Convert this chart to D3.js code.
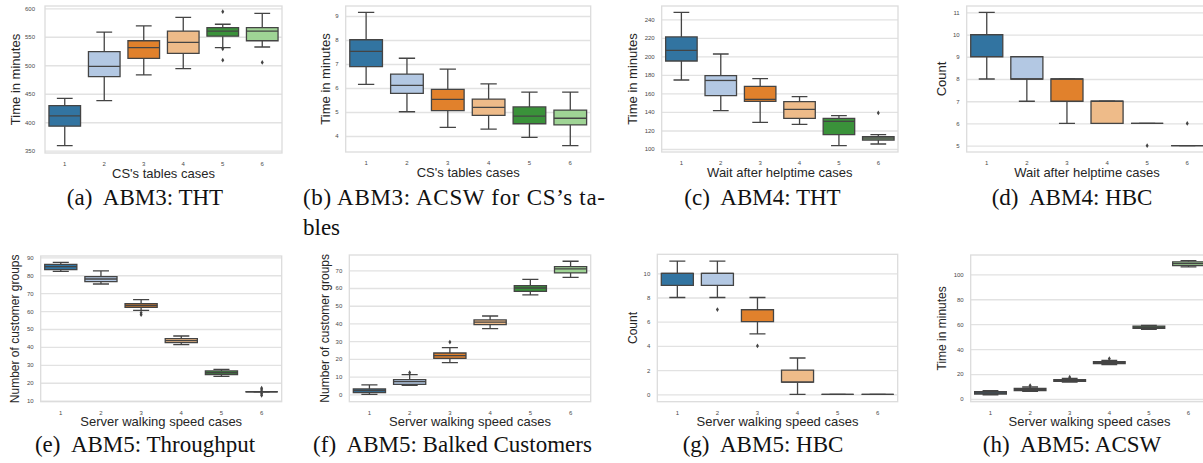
<!DOCTYPE html>
<html>
<head>
<meta charset="utf-8">
<script src="https://cdn.jsdelivr.net/npm/d3@7"></script>
<style>
  body { margin: 0; background: #fff; }
  svg { display: block; }
  .sans { font-family: "Liberation Sans", Arimo, Arial, sans-serif; }
  .serif { font-family: "Liberation Serif", Tinos, "Times New Roman", Times, serif; }
</style>
</head>
<body>
<div id="fig"></div>
<script>
// categories shared by every panel
var cases = ["1", "2", "3", "4", "5", "6"];

// box stats per case: [whisker low, q1, median, q3, whisker high]
var abm3Tht = [[359, 393, 411, 429, 442], [438, 480, 498, 524, 558], [483, 512, 531, 543, 569],
               [494, 521, 540, 560, 584], [531, 551, 560, 566, 572], [532, 543, 560, 566, 591]];
var abm3ThtOut = [[], [], [], [], [594, 529, 509], [505]];

var abm3Acsw = [[6.15, 6.89, 7.53, 8.01, 9.15], [5.01, 5.78, 6.11, 6.58, 7.24], [4.36, 5.06, 5.53, 5.94, 6.79],
                [4.29, 4.86, 5.19, 5.54, 6.17], [3.94, 4.51, 4.83, 5.21, 5.83], [3.60, 4.46, 4.74, 5.08, 5.83]];
var abm3AcswOut = [[], [], [], [], [], []];

var abm4Tht = [[174.5, 195, 206.5, 221, 247.6], [141.4, 157.6, 174, 179.2, 202.6], [128.8, 151.5, 153.6, 167.7, 176],
               [126.6, 133.1, 142.8, 151.1, 156.5], [103.6, 115.5, 129.9, 133.1, 136], [105.4, 109.7, 111.9, 113.3, 115.5]];
var abm4ThtOut = [[], [], [], [], [], [139]];

var abm4Hbc = [[8, 9, 10, 10, 11], [7, 8, 8, 9, 9], [6, 7, 8, 8, 8], [6, 6, 7, 7, 7], [6, 6, 6, 6, 6], [5, 5, 5, 5, 5]];
var abm4HbcOut = [[], [], [], [], [5], [6]];

var abm5Throughput = [[82.2, 83.1, 84.8, 86.1, 87.2], [75.1, 76.4, 77.9, 79.2, 82.4], [60.4, 62.1, 63, 64.1, 66.4],
                      [41.3, 42.4, 43.5, 44.6, 46.1], [23.6, 24.5, 25.6, 26.6, 27.5], [15, 15, 15, 15, 15]];
var abm5ThroughputOut = [[], [], [59, 58], [], [], [17, 16, 14, 13]];

var abm5Balked = [[0, 0.9, 2.1, 3.0, 5.3], [5.1, 5.6, 7.1, 8.3, 11.1], [17.9, 20.3, 21.8, 23.3, 26.3],
                  [37.1, 39.3, 40.8, 42, 44.2], [56.1, 58.1, 60, 61.3, 64.9], [66, 68.5, 70.8, 72.1, 75.1]];
var abm5BalkedOut = [[], [12.2], [29.5], [], [], []];

var abm5Hbc = [[8, 9, 10, 10, 11], [8, 9, 10, 10, 11], [5, 6, 7, 7, 8], [0, 1, 1, 2, 3], [0, 0, 0, 0, 0], [0, 0, 0, 0, 0]];
var abm5HbcOut = [[], [7], [4], [], [], []];

var abm5Acsw = [[3.4, 4.0, 4.8, 5.8, 6.6], [6.2, 6.8, 7.6, 8.4, 9.6], [13.5, 14.2, 14.9, 15.6, 16.5],
                [27.5, 28.3, 29.1, 30.0, 31.0], [55.8, 56.6, 57.5, 58.4, 59.0], [106, 107, 108.5, 110, 111]];
var abm5AcswOut = [[], [10.8], [17.5], [32.3], [], []];

// y ranges and tick labels
var domA = [346, 604], ticksA = [350, 400, 450, 500, 550, 600];
var domB = [3.333, 9.417], ticksB = [4, 5, 6, 7, 8, 9];
var domC = [96.76, 254.4], ticksC = [100, 120, 140, 160, 180, 200, 220, 240];
var domD = [4.717, 11.283], ticksD = [5, 6, 7, 8, 9, 10, 11];
var domE = [9.44, 90.73], ticksE = [10, 20, 30, 40, 50, 60, 70, 80, 90];
var domF = [-4.18, 78.64], ticksF = [0, 10, 20, 30, 40, 50, 60, 70];
var domG = [-0.61, 11.57], ticksG = [0, 2, 4, 6, 8, 10];
var domH = [-2.17, 115.48], ticksH = [0, 20, 40, 60, 80, 100];

// seaborn tab20 colours (desaturated)
var boxColors = ["#3274a1", "#b3c8e3", "#e1812c", "#eebb89", "#3a923a", "#9fd495"];
var lineColor = "#444444";

var panels = [
  {stats: abm3Tht, out: abm3ThtOut, dom: domA, ticks: ticksA, ylab: "Time in minutes", xlab: "CS's tables cases",
   x: 45, y: 6, w: 237, h: 147, ylabX: 15.7, ylabSize: 13, tickPad: 10},
  {stats: abm3Acsw, out: abm3AcswOut, dom: domB, ticks: ticksB, ylab: "Time in minutes", xlab: "CS's tables cases",
   x: 345.7, y: 6, w: 245, h: 146, ylabX: 325, ylabSize: 13, tickPad: 7},
  {stats: abm4Tht, out: abm4ThtOut, dom: domC, ticks: ticksC, ylab: "Time in minutes", xlab: "Wait after helptime cases",
   x: 661.7, y: 6, w: 236.3, h: 146, ylabX: 632.7, ylabSize: 13, tickPad: 7},
  {stats: abm4Hbc, out: abm4HbcOut, dom: domD, ticks: ticksD, ylab: "Count", xlab: "Wait after helptime cases",
   x: 966.7, y: 6, w: 240.6, h: 146, ylabX: 941.7, ylabSize: 13, tickPad: 7},
  {stats: abm5Throughput, out: abm5ThroughputOut, dom: domE, ticks: ticksE, ylab: "Number of customer groups", xlab: "Server walking speed cases",
   x: 40.7, y: 256, w: 241, h: 145.7, ylabX: 15, ylabSize: 12, tickPad: 7},
  {stats: abm5Balked, out: abm5BalkedOut, dom: domF, ticks: ticksF, ylab: "Number of customer groups", xlab: "Server walking speed cases",
   x: 349.3, y: 255, w: 241.4, h: 146.7, ylabX: 325, ylabSize: 12, tickPad: 7},
  {stats: abm5Hbc, out: abm5HbcOut, dom: domG, ticks: ticksG, ylab: "Count", xlab: "Server walking speed cases",
   x: 657.3, y: 254.3, w: 240.4, h: 147.4, ylabX: 632.7, ylabSize: 12, tickPad: 7},
  {stats: abm5Acsw, out: abm5AcswOut, dom: domH, ticks: ticksH, ylab: "Time in minutes", xlab: "Server walking speed cases",
   x: 970.7, y: 255, w: 237.6, h: 146.7, ylabX: 941.7, ylabSize: 12, tickPad: 7}
];

var captions = [
  {label: "(a)", text: "ABM3: THT", cx: 145, y: 205},
  {label: "(c)", text: "ABM4: THT", cx: 762.5, y: 205},
  {label: "(d)", text: "ABM4: HBC", cx: 1072, y: 205},
  {label: "(e)", text: "ABM5: Throughput", cx: 145, y: 452},
  {label: "(f)", text: "ABM5: Balked Customers", cx: 452.5, y: 452},
  {label: "(g)", text: "ABM5: HBC", cx: 763, y: 452},
  {label: "(h)", text: "ABM5: ACSW", cx: 1072, y: 452}
];

var svg = d3.select("#fig").append("svg")
  .attr("width", 1203)
  .attr("height", 463);

// thin diamond used by seaborn for fliers
var diamond = "M0,-2.4L1.5,0L0,2.4L-1.5,0Z";

function drawPanel(p) {
  var g = svg.append("g").attr("transform", "translate(" + p.x + "," + p.y + ")");

  var x = d3.scaleBand().domain(cases).range([0, p.w]);
  var y = d3.scaleLinear().domain(p.dom).range([p.h, 0]);

  // grid + y tick labels
  g.append("g")
    .attr("class", "sans")
    .call(d3.axisLeft(y).tickValues(p.ticks).tickSize(-p.w).tickPadding(p.tickPad).tickFormat(d3.format("d")))
    .call(function(s) {
      s.attr("font-family", null).attr("font-size", 6);
      s.select(".domain").remove();
      s.selectAll("line").attr("stroke", "#e2e2e2").attr("stroke-width", 1.3);
      s.selectAll("text").attr("fill", "#4a4a4a");
    });

  // frame
  g.append("rect")
    .attr("width", p.w).attr("height", p.h)
    .attr("fill", "none").attr("stroke", "#dcdcdc").attr("stroke-width", 1.3);

  // x tick labels
  g.append("g")
    .attr("class", "sans")
    .attr("transform", "translate(0," + p.h + ")")
    .call(d3.axisBottom(x).tickSize(0).tickPadding(9))
    .call(function(s) {
      s.attr("font-family", null).attr("font-size", 6);
      s.select(".domain").remove();
      s.selectAll("text").attr("fill", "#4a4a4a");
    });

  var bw = x.bandwidth() * 0.8;
  var cw = bw * 0.5;

  var boxes = g.selectAll(".box")
    .data(p.stats)
    .enter()
    .append("g")
    .attr("class", "box")
    .attr("transform", function(d, i) { return "translate(" + (x(cases[i]) + x.bandwidth() / 2) + ",0)"; });

  // whiskers
  boxes.append("path")
    .attr("d", function(d) {
      return "M0," + y(d[3]) + "V" + y(d[4]) + "M0," + y(d[1]) + "V" + y(d[0]) +
        "M" + (-cw / 2) + "," + y(d[4]) + "H" + (cw / 2) +
        "M" + (-cw / 2) + "," + y(d[0]) + "H" + (cw / 2);
    })
    .attr("fill", "none").attr("stroke", lineColor).attr("stroke-width", 1.3);

  // box (path so a zero-height box still shows)
  boxes.append("path")
    .attr("d", function(d) {
      return "M" + (-bw / 2) + "," + y(d[3]) + "H" + (bw / 2) + "V" + y(d[1]) + "H" + (-bw / 2) + "Z";
    })
    .attr("fill", function(d, i) { return boxColors[i]; })
    .attr("stroke", lineColor).attr("stroke-width", 1.3);

  // median
  boxes.append("path")
    .attr("d", function(d) { return "M" + (-bw / 2) + "," + y(d[2]) + "H" + (bw / 2); })
    .attr("stroke", lineColor).attr("stroke-width", 1.3);

  // fliers
  boxes.each(function(d, i) {
    d3.select(this).selectAll(".flier")
      .data(p.out[i])
      .enter()
      .append("path")
      .attr("class", "flier")
      .attr("d", diamond)
      .attr("transform", function(v) { return "translate(0," + y(v) + ")"; })
      .attr("fill", lineColor);
  });

  // axis titles
  g.append("text")
    .attr("class", "sans")
    .attr("x", p.w / 2)
    .attr("y", p.h + 24.5)
    .attr("text-anchor", "middle")
    .attr("fill", "#262626")
    .attr("font-size", 13)
    .text(p.xlab);

  svg.append("text")
    .attr("class", "sans")
    .attr("transform", "translate(" + p.ylabX + "," + (p.y + p.h / 2) + ") rotate(-90)")
    .attr("dy", "0.36em")
    .attr("text-anchor", "middle")
    .attr("fill", "#262626")
    .attr("font-size", p.ylabSize)
    .text(p.ylab);
}

panels.forEach(drawPanel);

// sub-captions
captions.forEach(function(c) {
  var t = svg.append("text")
    .attr("class", "serif")
    .attr("x", c.cx).attr("y", c.y)
    .attr("text-anchor", "middle")
    .attr("fill", "#111")
    .attr("font-size", 23);
  t.append("tspan").text(c.label);
  t.append("tspan").attr("dx", 6).text(" " + c.text);
});

// caption (b) wraps onto two justified lines
svg.append("text")
  .attr("class", "serif")
  .attr("x", 303).attr("y", 205)
  .attr("textLength", 302).attr("lengthAdjust", "spacing")
  .attr("fill", "#111")
  .attr("font-size", 23)
  .text("(b)  ABM3: ACSW for CS\u2019s ta-");
svg.append("text")
  .attr("class", "serif")
  .attr("x", 303).attr("y", 235)
  .attr("fill", "#111")
  .attr("font-size", 23)
  .text("bles");
</script>
</body>
</html>
